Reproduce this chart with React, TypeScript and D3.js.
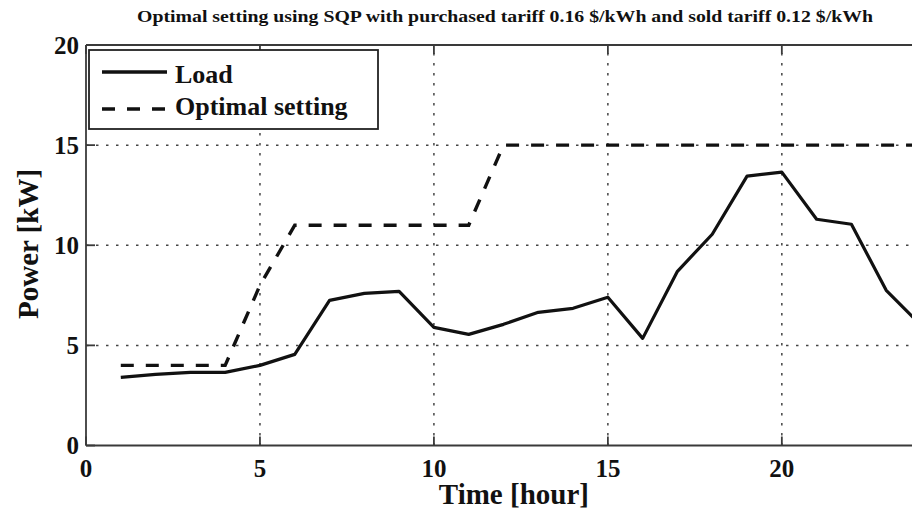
import React from "react";
import * as d3 from "d3";

const hours = [1, 2, 3, 4, 5, 6, 7, 8, 9, 10, 11, 12, 13, 14, 15, 16, 17, 18, 19, 20, 21, 22, 23, 24];
const loadValues = [3.4, 3.55, 3.65, 3.65, 4.0, 4.55, 7.25, 7.6, 7.7, 5.9, 5.55, 6.05, 6.65, 6.85, 7.4, 5.35, 8.7, 10.55, 13.45, 13.65, 11.3, 11.05, 7.75, 6.0];
const optimalValues = [4, 4, 4, 4, 8, 11, 11, 11, 11, 11, 11, 15, 15, 15, 15, 15, 15, 15, 15, 15, 15, 15, 15, 15];
const xTicks = [0, 5, 10, 15, 20];
const yTicks = [0, 5, 10, 15, 20];
const titleText = "Optimal setting using SQP with purchased tariff 0.16 $/kWh and sold tariff 0.12 $/kWh";
const xLabel = "Time [hour]";
const yLabel = "Power [kW]";
const legendLabels = ["Load", "Optimal setting"];

const W = 912;
const H = 515;
const FONT = "'Liberation Serif', 'Times New Roman', serif";

export default function App() {
  const x = d3.scaleLinear().domain([0, 24]).range([86, 921]);
  const y = d3.scaleLinear().domain([0, 20]).range([445.5, 45]);
  const line = d3
    .line<number>()
    .x((_, i) => x(hours[i]))
    .y((d) => y(d));

  const left = x(0);
  const right = x(24);
  const top = y(20);
  const bottom = y(0);
  const axisColor = "#3a3a3a";
  const gridColor = "#444";

  return (
    <svg
      width={W}
      height={H}
      viewBox={`0 0 ${W} ${H}`}
      style={{ position: "absolute", left: 0, top: 0, background: "#fff" }}
    >
      <rect x={0} y={0} width={W} height={H} fill="#fff" />
      {/* title */}
      <text
        x={505}
        y={22}
        textAnchor="middle"
        fontFamily={FONT}
        fontWeight="bold"
        fontSize={16.5}
        textLength={736}
        lengthAdjust="spacingAndGlyphs"
        fill="#111"
      >
        {titleText}
      </text>

      {/* grid */}
      <g stroke={gridColor} strokeWidth={1.5} strokeDasharray="2.5,7.5" fill="none">
        {xTicks
          .filter((t) => t > 0)
          .map((t) => (
            <line key={"gx" + t} x1={x(t)} x2={x(t)} y1={bottom} y2={top} />
          ))}
        {yTicks
          .filter((t) => t > 0 && t < 20)
          .map((t) => (
            <line key={"gy" + t} x1={left} x2={right} y1={y(t)} y2={y(t)} />
          ))}
      </g>

      {/* axes box */}
      <g stroke={axisColor} strokeWidth={1.8} fill="none">
        <line x1={left} x2={right} y1={bottom} y2={bottom} />
        <line x1={left} x2={right} y1={top} y2={top} />
        <line x1={left} x2={left} y1={top} y2={bottom} />
        <line x1={right} x2={right} y1={top} y2={bottom} />
        {xTicks.map((t) => (
          <g key={"tx" + t}>
            <line x1={x(t)} x2={x(t)} y1={bottom} y2={bottom - 9} />
            <line x1={x(t)} x2={x(t)} y1={top} y2={top + 9} />
          </g>
        ))}
        {yTicks.map((t) => (
          <g key={"ty" + t}>
            <line x1={left} x2={left + 9} y1={y(t)} y2={y(t)} />
            <line x1={right} x2={right - 9} y1={y(t)} y2={y(t)} />
          </g>
        ))}
      </g>

      {/* tick labels */}
      <g fontFamily={FONT} fontWeight="bold" fontSize={25} fill="#111">
        {xTicks.map((t) => (
          <text key={"lx" + t} x={x(t)} y={477} textAnchor="middle">
            {t}
          </text>
        ))}
        {yTicks.map((t) => (
          <text key={"ly" + t} x={79} y={y(t)} textAnchor="end" dominantBaseline="central">
            {t}
          </text>
        ))}
      </g>

      {/* axis labels */}
      <text
        x={(x(10) + x(15)) / 2 - 7}
        y={504}
        textAnchor="middle"
        fontFamily={FONT}
        fontWeight="bold"
        fontSize={29}
        fill="#111"
      >
        {xLabel}
      </text>
      <text
        transform={`translate(38, ${244}) rotate(-90)`}
        textAnchor="middle"
        fontFamily={FONT}
        fontWeight="bold"
        fontSize={29}
        fill="#111"
      >
        {yLabel}
      </text>

      {/* series */}
      <path d={line(optimalValues) || ""} fill="none" stroke="#111" strokeWidth={3.4} strokeDasharray="13,12" />
      <path d={line(loadValues) || ""} fill="none" stroke="#111" strokeWidth={3.2} strokeLinejoin="round" />

      {/* legend */}
      <rect x={89} y={50} width={289} height={79} fill="#fff" stroke="#222" strokeWidth={1.8} />
      <line x1={102} x2={167} y1={72} y2={72} stroke="#111" strokeWidth={3.4} />
      <line x1={102} x2={167} y1={109} y2={109} stroke="#111" strokeWidth={3.4} strokeDasharray="13,12" />
      <g fontFamily={FONT} fontWeight="bold" fontSize={26} fill="#111">
        <text x={175} y={83}>
          {legendLabels[0]}
        </text>
        <text x={175} y={115}>
          {legendLabels[1]}
        </text>
      </g>
    </svg>
  );
}
